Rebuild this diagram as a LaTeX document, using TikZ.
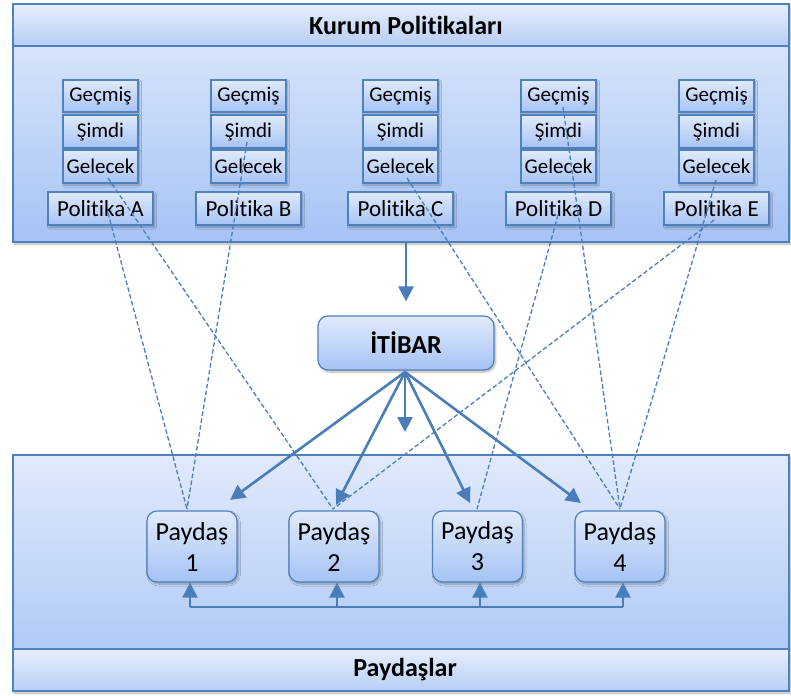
\documentclass[tikz,border=0pt]{standalone}
\usepackage{fontspec}
\setmainfont{Carlito}[Ligatures={NoCommon}]
\usetikzlibrary{arrows.meta,shadows.blur}

\definecolor{edge}{HTML}{4F81BD}
\definecolor{lineblue}{HTML}{4A7EBB}
\definecolor{fillhi}{HTML}{E0EAFB}
\definecolor{filllo}{HTML}{A6C3F5}
\definecolor{bandhi}{HTML}{E6EEFC}
\definecolor{bandlo}{HTML}{B7CEF5}

\tikzset{
  softshadow/.style={blur shadow={shadow xshift=1.5pt, shadow yshift=-2pt,
      shadow blur radius=2pt, shadow blur steps=6, shadow opacity=30}},
  panel/.style={draw=edge, line width=1.2pt, top color=fillhi, bottom color=filllo,
      minimum width=776pt, inner sep=0pt, softshadow},
  band/.style={draw=edge, line width=1.2pt, top color=bandhi, bottom color=bandlo,
      minimum width=776pt, minimum height=42pt, inner sep=0pt},
  titletext/.style={font=\fontsize{26}{31}\selectfont\bfseries, inner sep=0pt},
  histbox/.style={draw=edge, line width=1.2pt, top color=fillhi, bottom color=filllo,
      minimum width=75pt, minimum height=32pt, inner sep=0pt,
      font=\fontsize{21}{25}\selectfont, softshadow},
  polbox/.style={histbox, minimum width=105pt, minimum height=33pt,
      font=\fontsize{23}{27}\selectfont},
  roundbox/.style={draw=edge, line width=1.2pt, rounded corners=10pt,
      top color=fillhi, bottom color=filllo, inner sep=0pt, softshadow},
  stakebox/.style={roundbox, minimum width=90pt, minimum height=71pt, align=center,
      font=\fontsize{26}{31}\selectfont},
  flow/.style={draw=lineblue, line width=2.6pt,
      -{Triangle[length=15pt,width=15pt]}},
  uplink/.style={draw=lineblue, line width=2pt,
      -{Triangle[length=15pt,width=15pt]}},
  busline/.style={draw=lineblue, line width=2pt},
  relation/.style={draw=lineblue, line width=1.3pt, dash pattern=on 4.5pt off 2.5pt},
}

\begin{document}
\begin{tikzpicture}[x=1pt, y=-1pt]
\useasboundingbox (0,0) rectangle (791,695);

% institution policies panel
\node[panel, minimum height=238pt] (kurum) at (401,123) {};
\node[band] (kurumbar) at (401,25) {};
\node[titletext] (kurumtitle) at (406,25) {Kurum Politikaları};

% stakeholders panel
\node[panel, minimum height=236pt] (paydas) at (401,573) {};
\node[band] (paydasbar) at (401,670) {};
\node[titletext] (paydastitle) at (405,670) {Paydaşlar};

% policy columns: past / present / future stacked over each policy
\foreach \c/\x in {A/100.5,B/248.5,C/400.5,D/558.5,E/716.5}{
  \node[histbox] (gec\c) at (\x,96) {Geçmiş};
  \node[histbox, minimum height=33pt] (sim\c) at (\x,131.5) {Şimdi};
  \node[histbox, minimum height=33pt] (gel\c) at (\x,166.5) {Gelecek};
  \node[polbox] (pol\c) at (\x,208.5) {Politika \c};
}

% reputation
\node[roundbox, minimum width=176pt, minimum height=54pt,
      font=\fontsize{26}{31}\selectfont\bfseries] (itibar) at (406,343) {İTİBAR};

% stakeholders
\node[stakebox] (p1) at (192,546.5) {Paydaş\\1};
\node[stakebox] (p2) at (334,546.5) {Paydaş\\2};
\node[stakebox] (p3) at (477.5,546.5) {Paydaş\\3};
\node[stakebox] (p4) at (620,546.5) {Paydaş\\4};

% policies feed reputation
\draw[flow] (kurum.south -| itibar.north) -- ([yshift=14pt]itibar.north);

% reputation reaches stakeholders
\coordinate (hub) at (405,372);
\coordinate (t0) at (405,432);
\coordinate (t1) at (230,500);
\coordinate (t2) at (336,505);
\coordinate (t3) at (470,503);
\coordinate (t4) at (581,503);
\foreach \t in {t0,t1,t2,t3,t4}{
  \draw[flow] (hub) -- (\t);
}

% stakeholder bus
\coordinate (r1) at (190,607);
\coordinate (r2) at (337,607);
\coordinate (r3) at (480,607);
\coordinate (r4) at (623,607);
\draw[busline] (r1) -- (r4);
\draw[uplink] (r1) -- (r1 |- p1.south);
\draw[uplink] (r2) -- (r2 |- p2.south);
\draw[uplink] (r3) -- (r3 |- p3.south);
\draw[uplink] (r4) -- (r4 |- p4.south);

% policy-to-stakeholder relations
\coordinate (sA) at (108,213);
\coordinate (sB) at (247,142);
\coordinate (sGA) at (108,178);
\coordinate (sE) at (714,220);
\coordinate (sGC) at (407,178);
\coordinate (sD) at (558,215);
\coordinate (sGD) at (563,107);
\coordinate (sGE) at (716,180);
\coordinate (e1) at (187,509);
\coordinate (e2) at (333,509);
\coordinate (e3) at (477,509);
\coordinate (e4) at (620,509);
\draw[relation] (sA) -- (e1);
\draw[relation] (sB) -- (e1);
\draw[relation] (sGA) -- (e2);
\draw[relation] (sE) -- (e2);
\draw[relation] (sD) -- (e3);
\draw[relation] (sGC) -- (e4);
\draw[relation] (sGD) -- (e4);
\draw[relation] (sGE) -- (e4);
\end{tikzpicture}
\end{document}
